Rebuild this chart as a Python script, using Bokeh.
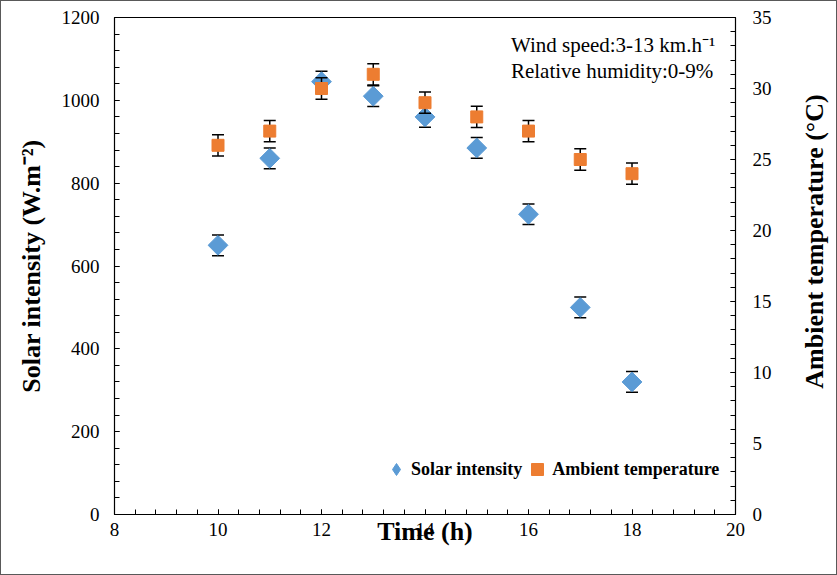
import math
from bokeh.plotting import figure
from bokeh.models import (Range1d, LinearAxis, SingleIntervalTicker, Label, Legend,
                          LegendItem, ColumnDataSource)
from bokeh.embed import file_html
from bokeh.resources import INLINE

# ---- data ----
time_h = [10, 11, 12, 13, 14, 15, 16, 17, 18]
solar_intensity = [650, 860, 1045, 1010, 960, 885, 725, 500, 320]
solar_err = [25, 25, 25, 25, 25, 25, 25, 25, 25]
ambient_temp = [26, 27, 30, 31, 29, 28, 27, 25, 24]
temp_err = [0.75, 0.75, 0.75, 0.75, 0.75, 0.75, 0.75, 0.75, 0.75]

x_limits = (8, 20)
solar_limits = (0, 1200)
temp_limits = (0, 35)

x_title = "Time (h)"
left_title = "Solar intensity (W.m\u207b\u00b2)"
right_title = "Ambient temperature (\u00b0C)"
note_lines = ["Wind speed:3-13 km.h\u207b\u00b9", "Relative humidity:0-9%"]
series_names = ["Solar intensity", "Ambient temperature"]

BLUE = "#5B9BD5"
ORANGE = "#ED7D31"
FONT = "Liberation Serif"

p = figure(width=835, height=573, output_backend="svg", toolbar_location=None,
           x_range=Range1d(*x_limits), y_range=Range1d(*solar_limits),
           min_border_left=113, min_border_right=103, min_border_top=16,
           min_border_bottom=62)
p.extra_y_ranges = {"temp": Range1d(*temp_limits)}
p.xgrid.visible = False
p.ygrid.visible = False
p.outline_line_color = "black"
p.outline_line_width = 1
p.background_fill_color = "white"
p.border_fill_color = "white"
p.styles = {"border": "1px solid #595959", "box-sizing": "content-box"}


def style_axis(ax, standoff):
    ax.axis_line_color = "black"
    ax.axis_line_width = 1.2
    ax.major_tick_line_color = "black"
    ax.minor_tick_line_color = "black"
    ax.major_tick_in = 5
    ax.major_tick_out = 0
    ax.minor_tick_in = 5
    ax.minor_tick_out = 0
    ax.major_label_text_font = FONT
    ax.major_label_text_font_size = "19px"
    ax.major_label_text_color = "black"
    ax.major_label_standoff = standoff


def style_title(ax, standoff):
    ax.axis_label_text_font = FONT
    ax.axis_label_text_font_style = "bold"
    ax.axis_label_text_font_size = "26px"
    ax.axis_label_text_color = "black"
    ax.axis_label_standoff = standoff


xa = p.xaxis[0]
xa.ticker = SingleIntervalTicker(interval=2, num_minor_ticks=5)
style_axis(xa, 8)
xa.axis_label = x_title
style_title(xa, -22)

ya = p.yaxis[0]
ya.ticker = SingleIntervalTicker(interval=200, num_minor_ticks=5)
style_axis(ya, 15)
ya.axis_label = left_title
style_title(ya, 13)

ra = LinearAxis(y_range_name="temp",
                ticker=SingleIntervalTicker(interval=5, num_minor_ticks=5))
style_axis(ra, 17)
p.add_layout(ra, "right")

# right-hand title, reading bottom-to-top, in the right side panel
p.add_layout(Label(x=40, y=273, x_units="screen", y_units="screen",
                   text=right_title, angle=math.pi / 2,
                   text_align="center", text_baseline="middle", text_font=FONT,
                   text_font_style="bold", text_font_size="26px",
                   text_color="black"), "right")

# ---- error bars + markers ----
solar_src = ColumnDataSource(dict(
    x=time_h, y=solar_intensity,
    upper=[v + e for v, e in zip(solar_intensity, solar_err)],
    lower=[v - e for v, e in zip(solar_intensity, solar_err)]))
temp_src = ColumnDataSource(dict(
    x=time_h, y=ambient_temp,
    upper=[v + e for v, e in zip(ambient_temp, temp_err)],
    lower=[v - e for v, e in zip(ambient_temp, temp_err)]))

p.segment(x0="x", y0="lower", x1="x", y1="upper", source=solar_src,
          line_color="black", line_width=1.5)
p.scatter("x", "upper", source=solar_src, marker="dash", size=12,
          line_color="black", line_width=1.5)
p.scatter("x", "lower", source=solar_src, marker="dash", size=12,
          line_color="black", line_width=1.5)
p.scatter("x", "y", source=solar_src, marker="square", angle=math.pi / 4,
          size=14, fill_color=BLUE, line_color=BLUE)

p.segment(x0="x", y0="lower", x1="x", y1="upper", source=temp_src,
          y_range_name="temp", line_color="black", line_width=1.5)
p.scatter("x", "upper", source=temp_src, y_range_name="temp", marker="dash",
          size=12, line_color="black", line_width=1.5)
p.scatter("x", "lower", source=temp_src, y_range_name="temp", marker="dash",
          size=12, line_color="black", line_width=1.5)
p.scatter("x", "y", source=temp_src, y_range_name="temp", marker="square",
          size=12, fill_color=ORANGE, line_color=ORANGE)

# ---- legend (key glyphs only) ----
nan = float("nan")
leg_solar = p.scatter(x=[nan], y=[nan], marker="diamond", fill_color=BLUE,
                      line_color=BLUE)
leg_temp = p.scatter(x=[nan], y=[nan], marker="square", fill_color=ORANGE,
                     line_color=ORANGE)
legend = Legend(items=[LegendItem(label=series_names[0], renderers=[leg_solar]),
                       LegendItem(label=series_names[1], renderers=[leg_temp])],
                location=(267, 30), orientation="horizontal",
                glyph_width=30, glyph_height=30, label_standoff=-6, spacing=0,
                padding=0, margin=0, border_line_color=None,
                background_fill_alpha=0,
                label_text_font=FONT, label_text_font_style="bold",
                label_text_font_size="18px", label_text_color="black")
p.add_layout(legend)

# ---- notes ----
p.add_layout(Label(x=15.66, y=1134, text=note_lines[0], text_align="left",
                   text_baseline="alphabetic", text_font=FONT,
                   text_font_size="21px", text_color="black"))
p.add_layout(Label(x=15.66, y=1070, text=note_lines[1], text_align="left",
                   text_baseline="alphabetic", text_font=FONT,
                   text_font_size="21px", text_color="black"))

open("out.html", "w").write(file_html(p, INLINE))
